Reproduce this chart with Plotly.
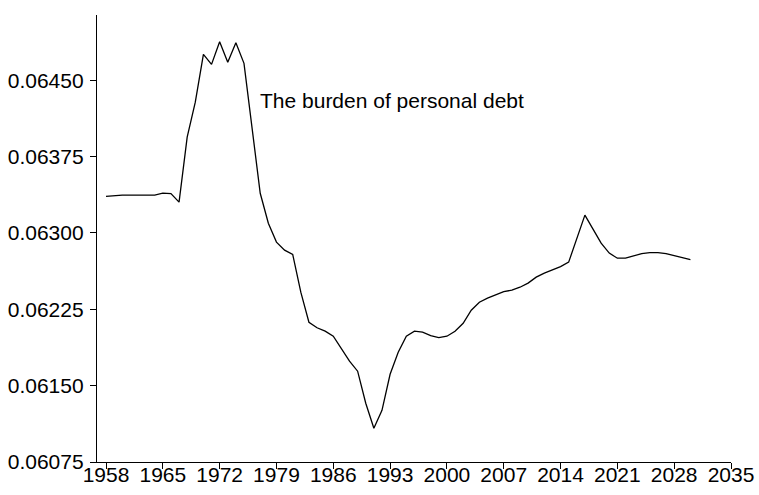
import plotly.graph_objects as go

years = list(range(1958, 2031))
burden = [
    0.063359, 0.063369, 0.063372, 0.063372, 0.063372, 0.063372, 0.063372,  # 1958-1964
    0.063391, 0.063386, 0.063303, 0.063942, 0.064285,                      # 1965-1969
    0.064755, 0.064656, 0.064879, 0.064676, 0.064869, 0.064666,            # 1970-1975
    0.064030, 0.063390, 0.063096, 0.062910, 0.062831, 0.062789,            # 1976-1981
    0.062418, 0.062123, 0.062069, 0.062035, 0.061986, 0.061868,            # 1982-1987
    0.061740, 0.061642, 0.061327, 0.061081, 0.061258, 0.061612,            # 1988-1993
    0.061828, 0.061986, 0.062035, 0.062025, 0.061991, 0.061971,            # 1994-1999
    0.061986, 0.062035, 0.062113, 0.062241, 0.062320, 0.062359,            # 2000-2005
    0.062394, 0.062423, 0.062438, 0.062467, 0.062507, 0.062566,            # 2006-2011
    0.062605, 0.062639, 0.062669, 0.062713, 0.062939, 0.063175,            # 2012-2017
    0.063037, 0.062900, 0.062802, 0.062752, 0.062752, 0.062772,            # 2018-2023
    0.062797, 0.062806, 0.062806, 0.062797, 0.062777, 0.062752,            # 2024-2029
    0.062738,                                                              # 2030
]
x_ticks = list(range(1958, 2036, 7))
y_ticks = [0.06075, 0.06150, 0.06225, 0.06300, 0.06375, 0.06450]
label = "The burden of personal debt"

FONT = "Liberation Sans, Arial, Helvetica, sans-serif"

fig = go.Figure()
fig.add_trace(go.Scatter(x=years, y=burden, mode="lines",
                         line=dict(color="black", width=1.3),
                         showlegend=False, hoverinfo="skip"))

fig.add_annotation(x=1976.7, y=0.0643005, text=label, showarrow=False,
                   xanchor="left", yanchor="middle",
                   font=dict(size=21, color="black", family=FONT))

axis_common = dict(showline=True, linecolor="black", linewidth=1.3,
                   ticks="outside", ticklen=6, tickcolor="black", tickwidth=1.3,
                   showgrid=False, zeroline=False, mirror=False, automargin=False,
                   tickfont=dict(size=21, color="black", family=FONT))

fig.update_xaxes(range=[1956.89, 2035], tickvals=x_ticks, ticklabelstandoff=-12, **axis_common)
fig.update_yaxes(range=[0.06075, 0.065141], tickvals=y_ticks, tickformat=".5f",
                 ticklabelstandoff=2, **axis_common)

fig.update_layout(width=759, height=495,
                  margin=dict(l=97, r=28, t=15, b=33),
                  paper_bgcolor="white", plot_bgcolor="white")

fig.write_html("out.html", config={"displayModeBar": False},
               post_script="document.body.style.margin='0';document.body.style.padding='0';")
